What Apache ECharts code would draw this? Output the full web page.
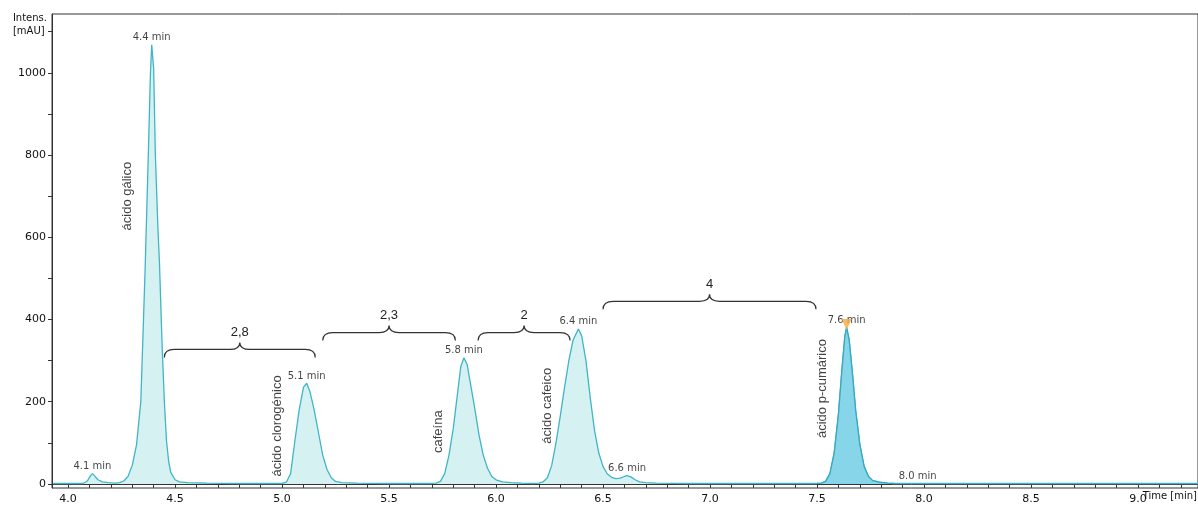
<!DOCTYPE html>
<html>
<head>
<meta charset="utf-8">
<script src="https://cdn.jsdelivr.net/npm/echarts@6/dist/echarts.min.js"></script>
<style>
  html, body { margin: 0; padding: 0; background: #fff; }
  #chart { width: 1198px; height: 509px; }
</style>
</head>
<body>
<div id="chart"></div>
<script>
// Chromatogram trace
const timeMin = [
  3.93, 4.00, 4.05, 4.07, 4.09, 4.105, 4.114, 4.125, 4.14, 4.16, 4.19, 4.22,
  4.24, 4.26, 4.28, 4.30, 4.32, 4.34, 4.36, 4.375, 4.385, 4.391, 4.40, 4.408,
  4.42, 4.427, 4.44, 4.45, 4.46, 4.47, 4.48, 4.50, 4.52, 4.56, 4.65, 4.80, 4.95,
  5.00, 5.02, 5.04, 5.06, 5.08, 5.10, 5.115, 5.13, 5.15, 5.17, 5.19, 5.21, 5.23,
  5.25, 5.28, 5.35, 5.50, 5.70,
  5.72, 5.74, 5.76, 5.78, 5.80, 5.82, 5.835, 5.85, 5.865, 5.88, 5.90, 5.92, 5.94,
  5.96, 5.98, 6.00, 6.03, 6.07, 6.12, 6.18,
  6.20, 6.22, 6.24, 6.26, 6.28, 6.30, 6.32, 6.34, 6.36, 6.385, 6.40, 6.42, 6.44,
  6.46, 6.48, 6.50, 6.52, 6.54, 6.56, 6.58, 6.60, 6.612, 6.63, 6.65, 6.67, 6.70,
  6.75, 6.90, 7.03, 7.20, 7.40, 7.50,
  7.52, 7.54, 7.56, 7.58, 7.60, 7.615, 7.63, 7.638, 7.65, 7.665, 7.68, 7.70, 7.72,
  7.74, 7.76, 7.79, 7.83, 7.86, 8.20, 8.80, 9.28
];
const intensity = [
  1, 1, 1, 1, 7, 20, 25, 19, 10, 5, 3, 2,
  3, 7, 18, 45, 95, 200, 520, 800, 1000, 1068, 1010, 800,
  620, 540, 330, 200, 105, 55, 28, 10, 5, 3, 2, 1, 1,
  1, 4, 25, 105, 180, 235, 245, 225, 180, 125, 70, 35, 15,
  6, 3, 2, 1, 1,
  2, 6, 25, 70, 135, 220, 285, 307, 290, 245, 185, 120, 70,
  38, 18, 10, 5, 3, 2, 1,
  2, 5, 15, 45, 100, 165, 235, 300, 350, 377, 360, 300, 210,
  130, 75, 42, 24, 16, 13, 14, 18, 20, 17, 10, 5, 3,
  2, 1, 1, 1, 1, 1,
  2, 6, 25, 75, 170, 270, 360, 380, 350, 270, 180, 95, 42,
  18, 8, 4, 2, 1, 1, 1, 1
];

// Peak labels
const peakTimes = [4.114, 4.391, 5.115, 5.85, 6.385, 6.612, 7.638, 7.97];
const peakHeights = [25, 1068, 245, 307, 377, 20, 380, 2];
const peakLabels = ['4.1 min', '4.4 min', '5.1 min', '5.8 min', '6.4 min', '6.6 min', '7.6 min', '8.0 min'];

// Compound names (rotated text anchors)
const compoundNames = ['ácido gálico', 'ácido clorogénico', 'cafeína', 'ácido cafeico', 'ácido p-cumárico'];
const compoundTimes = [4.276, 4.977, 5.729, 6.238, 7.523];
const compoundLevels = [700, 141, 127, 190, 232];

// Resolution braces between peaks
const braceStart = [4.45, 5.19, 5.916, 6.50];
const braceEnd = [5.155, 5.81, 6.346, 7.495];
const braceLevel = [327, 368, 368, 444];
const braceLabels = ['2,8', '2,3', '2', '4'];

const xTickLabels = [4.0, 4.5, 5.0, 5.5, 6.0, 6.5, 7.0, 7.5, 8.0, 8.5, 9.0];
const yTickLabels = [0, 200, 400, 600, 800, 1000];

const trace = timeMin.map((t, i) => [t, intensity[i]]);
const pCumaric = trace.filter(p => p[0] >= 7.50 && p[0] <= 7.86);

const minorX = [];
for (let v = 3.9; v <= 9.25; v += 0.1) minorX.push(Math.round(v * 10) / 10);
const minorY = [];
for (let v = 0; v <= 1100; v += 100) minorY.push(v);

const lineColor = '#3fb5c6';
const axisColor = '#333';

function renderBrace(params, api) {
  const i = params.dataIndex;
  const a = api.coord([braceStart[i], braceLevel[i]]);
  const b = api.coord([braceEnd[i], braceLevel[i]]);
  const y = a[1];
  const x1 = a[0], x2 = b[0];
  const mid = (x1 + x2) / 2;
  const r = 10;
  const path = 'M' + x1 + ',' + (y + 8) +
    ' Q' + x1 + ',' + y + ' ' + (x1 + r) + ',' + y +
    ' L' + (mid - r) + ',' + y +
    ' Q' + mid + ',' + y + ' ' + mid + ',' + (y - 7) +
    ' Q' + mid + ',' + y + ' ' + (mid + r) + ',' + y +
    ' L' + (x2 - r) + ',' + y +
    ' Q' + x2 + ',' + y + ' ' + x2 + ',' + (y + 8);
  return {
    type: 'group',
    children: [
      {
        type: 'path',
        shape: { pathData: path },
        style: { fill: null, stroke: '#333', lineWidth: 1.2 }
      },
      {
        type: 'text',
        x: mid,
        y: y - 17,
        style: {
          text: braceLabels[i],
          fill: '#222',
          font: '13px "Liberation Sans", Arial, sans-serif',
          align: 'center',
          verticalAlign: 'middle'
        }
      }
    ]
  };
}

const chart = echarts.init(document.getElementById('chart'));

chart.setOption({
  animation: false,
  backgroundColor: '#fff',
  grid: {
    left: 52, right: 0, top: 14, bottom: 21,
    show: true, borderColor: axisColor, borderWidth: 1
  },
  xAxis: {
    type: 'value',
    min: 3.925,
    max: 9.28,
    splitLine: { show: false },
    axisLine: { lineStyle: { color: axisColor } },
    axisTick: { customValues: minorX, length: 4, lineStyle: { color: axisColor } },
    axisLabel: {
      customValues: xTickLabels,
      formatter: v => v.toFixed(1),
      color: '#111',
      fontSize: 11,
      fontFamily: '"DejaVu Sans", sans-serif',
      margin: 6
    }
  },
  yAxis: {
    type: 'value',
    min: -10,
    max: 1143,
    splitLine: { show: false },
    axisLine: { show: true, lineStyle: { color: axisColor } },
    axisTick: { show: true, customValues: minorY, length: 4, lineStyle: { color: axisColor } },
    axisLabel: {
      customValues: yTickLabels,
      formatter: v => String(v),
      color: '#111',
      fontSize: 11,
      fontFamily: '"DejaVu Sans", sans-serif',
      margin: 6
    }
  },
  graphic: [
    {
      type: 'text', right: 1151, top: 12,
      style: { text: 'Intens.\n[mAU]', align: 'right', fill: '#111', font: '10px "DejaVu Sans", sans-serif', lineHeight: 13 }
    },
    {
      type: 'text', right: 1, top: 491,
      style: { text: 'Time [min]', fill: '#111', font: '10px "DejaVu Sans", sans-serif' }
    }
  ],
  series: [
    {
      type: 'line',
      data: trace,
      showSymbol: false,
      lineStyle: { color: lineColor, width: 1.3 },
      areaStyle: { color: '#d5f1f2', opacity: 1 },
      z: 2
    },
    {
      type: 'line',
      data: pCumaric,
      showSymbol: false,
      lineStyle: { color: '#35a9c0', width: 1.3 },
      areaStyle: { color: '#86d5e9', opacity: 1 },
      z: 3
    },
    {
      type: 'custom',
      renderItem: renderBrace,
      data: braceStart.map((s, i) => [s, braceEnd[i], braceLevel[i]]),
      encode: { x: [0, 1], y: 2 },
      z: 5
    },
    {
      type: 'scatter',
      data: peakTimes.map((t, i) => [t, peakHeights[i]]),
      symbolSize: 0,
      label: {
        show: true,
        position: 'top',
        distance: 2,
        formatter: p => peakLabels[p.dataIndex],
        color: '#111',
        fontSize: 10,
        fontFamily: '"DejaVu Sans", sans-serif'
      },
      z: 6
    },
    {
      type: 'scatter',
      data: compoundTimes.map((t, i) => [t, compoundLevels[i]]),
      symbolSize: 0,
      label: {
        show: true,
        position: 'inside',
        rotate: 90,
        formatter: p => compoundNames[p.dataIndex],
        color: '#111',
        fontSize: 13,
        fontFamily: '"Liberation Sans", Arial, sans-serif'
      },
      z: 6
    },
    {
      type: 'scatter',
      data: [[peakTimes[6], peakHeights[6] + 8]],
      symbol: 'triangle',
      symbolRotate: 180,
      symbolSize: [10, 11],
      itemStyle: { color: '#f2a93b' },
      z: 7
    }
  ]
});
</script>
</body>
</html>
